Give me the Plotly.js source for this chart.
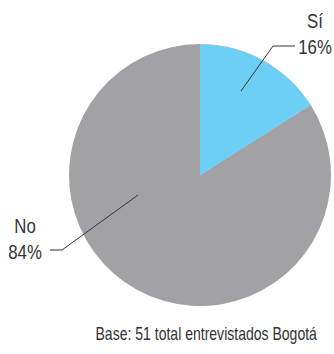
<!DOCTYPE html>
<html><head><meta charset="utf-8">
<script src="https://cdn.plot.ly/plotly-3.0.1.min.js"></script>
<style>html,body{margin:0;padding:0;background:#fff}#c{width:334px;height:354px}</style>
</head><body><div id="c"></div>
<script>
const categories = ["Sí", "No"];
const values = [16, 84];
const colors = ["#6DCFF6", "#A2A2A5"];
const caption = "Base: 51 total entrevistados Bogotá";

const W = 334, H = 354;
const px = (x) => x / W;
const py = (y) => 1 - y / H;
const FONT = "'Liberation Sans Narrow', 'Liberation Sans', Arial, sans-serif";

function path(points) {
  return points.map((p, i) => (i ? "L" : "M") + px(p[0]) + "," + py(p[1])).join(" ");
}

const data = [{
  type: "pie",
  labels: categories,
  values: values,
  marker: {colors: colors, line: {width: 0}},
  sort: false,
  direction: "clockwise",
  rotation: 0,
  textinfo: "none",
  hoverinfo: "skip",
  showlegend: false,
  domain: {x: [px(69), px(331)], y: [py(306), py(44)]}
}];

const layout = {
  width: W, height: H,
  margin: {l: 0, r: 0, t: 0, b: 0},
  paper_bgcolor: "#fff",
  showlegend: false,
  shapes: [
    {type: "path", xref: "paper", yref: "paper", path: path([[241, 91], [273, 46], [295, 46]]), line: {color: "#333", width: 1}},
    {type: "path", xref: "paper", yref: "paper", path: path([[138, 195], [62, 250], [50, 250]]), line: {color: "#333", width: 1}}
  ],
  annotations: [
    {name: "0.84", text: categories[0] + "<br>" + values[0] + "%", x: px(315), y: py(34), xref: "paper", yref: "paper", showarrow: false, align: "center", xanchor: "center", yanchor: "middle", font: {family: FONT, size: 20, color: "#333"}},
    {name: "0.84", text: categories[1] + "<br>" + values[1] + "%", x: px(25), y: py(239), xref: "paper", yref: "paper", showarrow: false, align: "center", xanchor: "center", yanchor: "middle", font: {family: FONT, size: 20, color: "#333"}},
    {name: "0.78", text: caption, x: px(207), y: py(334), xref: "paper", yref: "paper", showarrow: false, xanchor: "center", yanchor: "middle", font: {family: FONT, size: 18, color: "#333"}}
  ]
};

Plotly.newPlot("c", data, layout, {staticPlot: true, displayModeBar: false}).then(function (gd) {
  // condensed look: squeeze each annotation's text horizontally around its own centre
  gd.querySelectorAll(".annotation").forEach(function (g, i) {
    const s = parseFloat(layout.annotations[i].name);
    const t = g.querySelector(".annotation-text");
    if (!t) return;
    const b = t.getBBox();
    const cx = b.x + b.width / 2;
    t.setAttribute("transform", "translate(" + cx + ",0) scale(" + s + ",1) translate(" + (-cx) + ",0)");
  });
});
</script></body></html>
